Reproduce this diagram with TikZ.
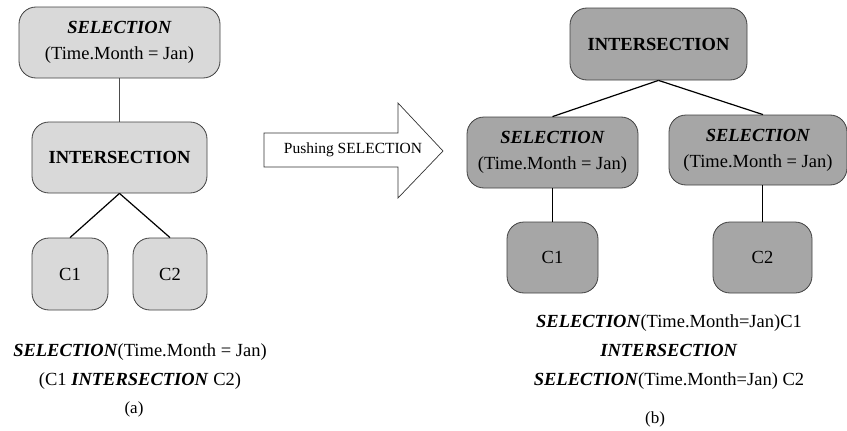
\documentclass[tikz,border=0pt]{standalone}
\usepackage{fontspec}
\setmainfont{Liberation Serif}
\begin{document}
\begin{tikzpicture}[x=1pt,y=-1pt,
  box/.style={draw=black!75,line width=0.8pt,rounded corners=17pt,align=center,inner sep=0pt,
    font=\fontsize{18.5}{26}\selectfont},
  lbox/.style={box,fill=black!15},
  dbox/.style={box,fill=black!35},
  conn/.style={line width=1.2pt,black},
  txt/.style={align=center,font=\fontsize{18.5}{29}\selectfont,inner sep=0pt}]
\useasboundingbox (0,0) rectangle (847,431);
% left tree
\node[lbox,minimum width=201pt,minimum height=71pt] (lsel) at (119.5,42.5) {\textbf{\textit{SELECTION}}\\(Time.Month = Jan)};
\node[lbox,minimum width=175pt,minimum height=71pt] (lint) at (119.5,157.5) {\textbf{INTERSECTION}};
\node[lbox,minimum width=76pt,minimum height=72pt] (lc1) at (70,274) {C1};
\node[lbox,minimum width=74pt,minimum height=72pt] (lc2) at (170,274) {C2};
\draw[line width=0.8pt,black!70] (lsel) -- (lint);
\draw[conn] (lint.south) -- (lc1.north);
\draw[conn] (lint.south) -- (lc2.north);
\node[txt] (ltext) at (140,367) {\textbf{\textit{SELECTION}}(Time.Month = Jan)\\(C1 \textbf{\textit{INTERSECTION}} C2)};
\node[txt,font=\fontsize{17}{20}\selectfont] (la) at (134,409) {(a)};
% arrow
\draw[line width=0.7pt,black!80,fill=white] (264,133) -- (398,133) -- (398,103) -- (443,151) -- (398,198) -- (398,167) -- (264,167) -- cycle;
\node[font=\fontsize{15.5}{18}\selectfont,inner sep=0pt] (push) at (353,150) {Pushing SELECTION};
% right tree
\node[dbox,minimum width=177pt,minimum height=72pt] (rint) at (658.5,44) {\textbf{INTERSECTION}};
\node[dbox,minimum width=171pt,minimum height=71pt] (rsel1) at (552.5,152.5) {\textbf{\textit{SELECTION}}\\(Time.Month = Jan)};
\node[dbox,minimum width=178pt,minimum height=70pt] (rsel2) at (758,150) {\textbf{\textit{SELECTION}}\\(Time.Month = Jan)};
\node[dbox,minimum width=91pt,minimum height=71pt] (rc1) at (552.5,257.5) {C1};
\node[dbox,minimum width=99pt,minimum height=71pt] (rc2) at (762.5,257.5) {C2};
\draw[conn] (rint.south) -- (rsel1.north);
\draw[conn] (rint.south) -- ([xshift=5pt]rsel2.north);
\draw[conn] (rsel1.south) -- (rc1.north);
\draw[conn] (rc2.north) -- (rc2.north |- rsel2.south);
\node[txt] (rtext) at (669,352) {\textbf{\textit{SELECTION}}(Time.Month=Jan)C1\\\textbf{\textit{INTERSECTION}}\\\textbf{\textit{SELECTION}}(Time.Month=Jan) C2};
\node[txt,font=\fontsize{17}{20}\selectfont] (rb) at (655,419) {(b)};
\end{tikzpicture}
\end{document}
